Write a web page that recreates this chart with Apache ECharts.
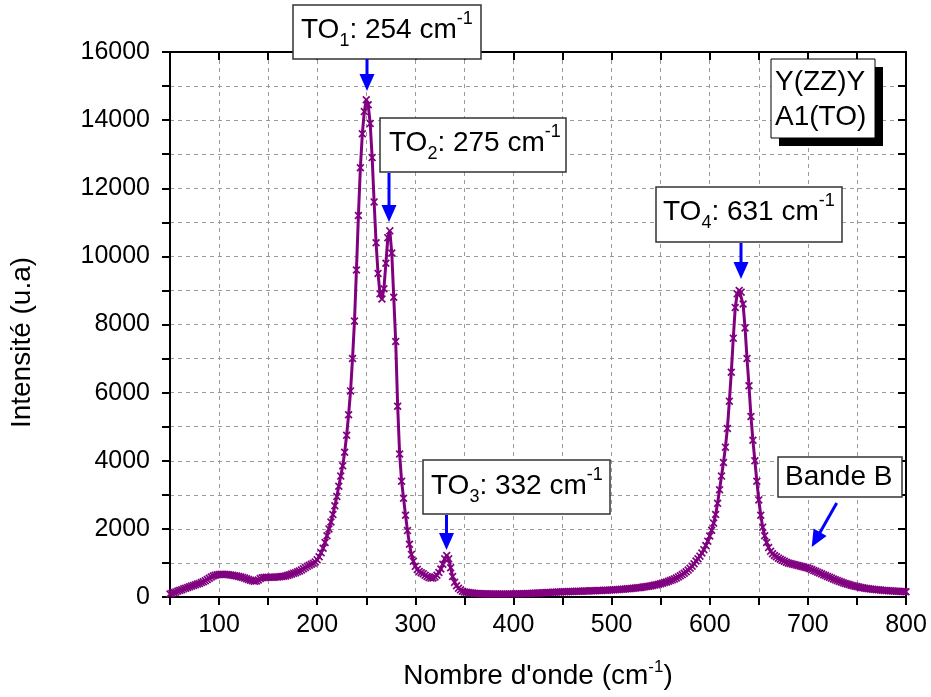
<!DOCTYPE html>
<html>
<head>
<meta charset="utf-8">
<script src="https://cdn.jsdelivr.net/npm/echarts@6/dist/echarts.min.js"></script>
<style>html,body{margin:0;padding:0;background:#fff}#c{width:931px;height:697px}</style>
</head>
<body>
<div id="c"></div>
<script>
// ---- data ----
const wnStart = 50;      // first wavenumber (cm-1)
const wnStep = 2;        // sampling step (cm-1)
const intensity = [
  90,110,130,150,175,195,215,240,260,280,300,320,340,360,380,400,425,450,480,515,
  550,585,615,635,650,660,665,665,660,660,655,645,635,625,615,605,590,575,555,535,
  515,495,475,460,470,500,540,565,575,580,580,580,580,580,585,590,595,600,610,620,
  635,655,675,695,715,740,765,795,830,865,900,930,960,990,1030,1090,1180,1300,1430,1600,
  1800,2000,2200,2420,2680,2950,3250,3550,3850,4250,4750,5350,6050,7000,8100,9600,11200,12600,13600,14250,
  14600,14450,13900,12900,11600,10400,9500,8900,8750,9050,9800,10550,10750,10100,8800,7500,5600,4200,3400,2900,
  2400,1950,1550,1250,1050,900,810,750,710,680,640,600,570,555,560,590,640,720,820,960,
  1120,1220,1120,860,600,430,330,260,210,170,150,140,130,122,116,110,106,102,99,96,
  94,92,91,90,89,88,88,88,88,88,89,89,90,90,91,92,93,94,95,96,
  97,99,101,103,105,108,111,114,117,120,123,126,129,132,135,138,141,144,147,150,
  152,154,156,158,160,162,164,166,168,170,172,174,176,178,180,182,184,186,188,190,
  192,195,198,201,204,207,210,214,218,222,226,230,235,240,245,250,256,262,268,275,
  282,290,298,307,316,326,337,349,362,376,391,407,424,442,462,484,507,532,560,590,
  622,658,698,742,790,845,905,975,1055,1125,1200,1290,1390,1510,1640,1790,1960,2170,2420,2750,
  3150,3550,3950,4400,4950,5750,6600,7600,8500,8900,9000,8950,8600,7900,7000,6200,5300,4600,4000,3400,
  2850,2400,2050,1800,1600,1450,1340,1270,1220,1180,1140,1110,1080,1050,1020,1000,985,970,955,940,
  925,910,895,880,865,850,830,805,780,755,730,705,680,655,630,605,580,555,530,505,
  482,460,440,420,400,382,365,348,333,318,305,292,280,270,260,251,243,236,229,222,
  216,210,204,199,194,189,185,181,177,173,170,167,164,161,158,155
];
const xTickLabels = [100,200,300,400,500,600,700,800];
const yTickLabels = [0,2000,4000,6000,8000,10000,12000,14000,16000];
const peakLabels = [
  {main:'TO', sub:'1', rest:': 254 cm', sup:'-1'},
  {main:'TO', sub:'2', rest:': 275 cm', sup:'-1'},
  {main:'TO', sub:'3', rest:': 332 cm', sup:'-1'},
  {main:'TO', sub:'4', rest:': 631 cm', sup:'-1'}
];
const bandLabel = 'Bande B';
const geomLines = ['Y(ZZ)Y', 'A1(TO)'];

// ---- build ----
const FONT = 'Liberation Sans, Arial, sans-serif';
const seriesData = intensity.map((v, i) => [wnStart + i * wnStep, v]);
const X_PATH = 'path://M0,1.5L1.5,0L5,3.5L8.5,0L10,1.5L6.5,5L10,8.5L8.5,10L5,6.5L1.5,10L0,8.5L3.5,5Z';
const PURPLE = '#800080';
const BLUE = '#0000ff';

const richStyles = {
  n: {fontSize: 28, fontFamily: FONT, fill: '#000', lineHeight: 40},
  b: {fontSize: 18, fontFamily: FONT, fill: '#000', lineHeight: 12, verticalAlign: 'bottom'},
  p: {fontSize: 18, fontFamily: FONT, fill: '#000', lineHeight: 22, verticalAlign: 'top'}
};

function boxEl(x, y, w, h) {
  return {type: 'rect', shape: {x, y, width: w, height: h}, style: {fill: '#fff', stroke: '#333', lineWidth: 1.5}, z: 100};
}
function peakText(x, y, l) {
  return {type: 'text', x, y, z: 101, style: {
    text: '{n|' + l.main + '}{b|' + l.sub + '}{n|' + l.rest + '}{p|' + l.sup + '}',
    rich: richStyles, verticalAlign: 'middle', align: 'left'}};
}
function arrowEls(x1, y1, x2, y2) {
  const dx = x2 - x1, dy = y2 - y1, L = Math.sqrt(dx*dx + dy*dy);
  const ux = dx / L, uy = dy / L, hl = 17, hw = 7.5;
  const bx = x2 - ux * hl, by = y2 - uy * hl;
  return [
    {type: 'line', shape: {x1, y1, x2: bx + ux * 2, y2: by + uy * 2}, style: {stroke: BLUE, lineWidth: 3}, z: 100},
    {type: 'polygon', shape: {points: [[x2, y2], [bx - uy * hw, by + ux * hw], [bx + uy * hw, by - ux * hw]]}, style: {fill: BLUE}, z: 100}
  ];
}

const graphic = [];
// TO1..TO4 boxes
const boxes = [
  {r: [293, 5, 188, 54], t: [301, 30], a: [367, 59, 367, 91]},
  {r: [380, 118, 186, 54], t: [389, 143], a: [389, 173, 389, 222]},
  {r: [423, 460, 187, 54], t: [431, 486], a: [446.5, 515, 446.5, 550]},
  {r: [656, 187, 186, 55], t: [663, 212], a: [741, 243, 741, 279]}
];
boxes.forEach((b, i) => {
  graphic.push(boxEl(...b.r));
  graphic.push(peakText(b.t[0], b.t[1], peakLabels[i]));
  graphic.push(...arrowEls(...b.a));
});
// Bande B
graphic.push(boxEl(778, 457, 124, 40));
graphic.push({type: 'text', x: 785, y: 477, z: 101, style: {text: bandLabel, font: '28px ' + FONT, fill: '#000', verticalAlign: 'middle'}});
graphic.push(...arrowEls(836.7, 503, 811.7, 547));
// Y(ZZ)Y box with shadow
graphic.push({type: 'rect', shape: {x: 779, y: 67, width: 104, height: 79}, style: {fill: '#000'}, z: 99});
graphic.push({type: 'rect', shape: {x: 771, y: 59, width: 104, height: 79}, style: {fill: '#fff', stroke: '#000', lineWidth: 1}, z: 100});
graphic.push({type: 'text', x: 775, y: 82, z: 101, style: {text: geomLines[0], font: '28px ' + FONT, fill: '#000', verticalAlign: 'middle'}});
graphic.push({type: 'text', x: 775, y: 117, z: 101, style: {text: geomLines[1], font: '28px ' + FONT, fill: '#000', verticalAlign: 'middle'}});

const gridLine = {show: true, lineStyle: {color: '#9a9a9a', width: 1, type: [4, 4]}};
const axisLine = {show: true, onZero: false, lineStyle: {color: '#000', width: 2}};

const option = {
  animation: false,
  backgroundColor: '#fff',
  grid: {left: 170, right: 25, top: 52, bottom: 100, containLabel: false},
  xAxis: [{
    type: 'value', min: 50, max: 800, interval: 50,
    axisLine, splitLine: gridLine,
    axisTick: {show: true, inside: false, length: 8, lineStyle: {color: '#000', width: 2}},
    axisLabel: {fontSize: 25, fontFamily: FONT, color: '#000', margin: 16,
      formatter: v => xTickLabels.includes(v) ? String(v) : ''},
    name: "{a|Nombre d'onde (cm}{s|-1}{a|)}", nameLocation: 'middle', nameGap: 62,
    nameTextStyle: {rich: {
      a: {fontSize: 28, fontFamily: FONT, color: '#000', lineHeight: 34},
      s: {fontSize: 17, fontFamily: FONT, color: '#000', lineHeight: 24, verticalAlign: 'top'}
    }}
  }, {
    type: 'value', position: 'top', min: 50, max: 800, interval: 50,
    axisLine, splitLine: {show: false},
    axisTick: {show: true, inside: true, length: 8, lineStyle: {color: '#000', width: 2}},
    axisLabel: {show: false}
  }],
  yAxis: [{
    type: 'value', min: 0, max: 16000, interval: 1000,
    axisLine, splitLine: gridLine,
    axisTick: {show: true, inside: false, length: 8, lineStyle: {color: '#000', width: 2}},
    axisLabel: {fontSize: 25, fontFamily: FONT, color: '#000', margin: 20,
      formatter: v => yTickLabels.includes(v) ? String(v) : ''},
    name: 'Intensité (u.a)', nameLocation: 'middle', nameGap: 134,
    nameTextStyle: {fontSize: 28, fontFamily: FONT, color: '#000', padding: [0, 36, 0, 0]}
  }, {
    type: 'value', position: 'right', min: 0, max: 16000, interval: 1000,
    axisLine, splitLine: {show: false},
    axisTick: {show: true, inside: true, length: 8, lineStyle: {color: '#000', width: 2}},
    axisLabel: {show: false}
  }],
  series: [{
    type: 'line', xAxisIndex: 0, yAxisIndex: 0,
    data: seriesData,
    symbol: X_PATH, symbolSize: 8, showAllSymbol: true,
    lineStyle: {color: PURPLE, width: 3},
    itemStyle: {color: PURPLE},
    z: 3
  }],
  graphic: graphic
};
const chart = echarts.init(document.getElementById('c'), null, {renderer: 'canvas'});
chart.setOption(option);
</script>
</body>
</html>
